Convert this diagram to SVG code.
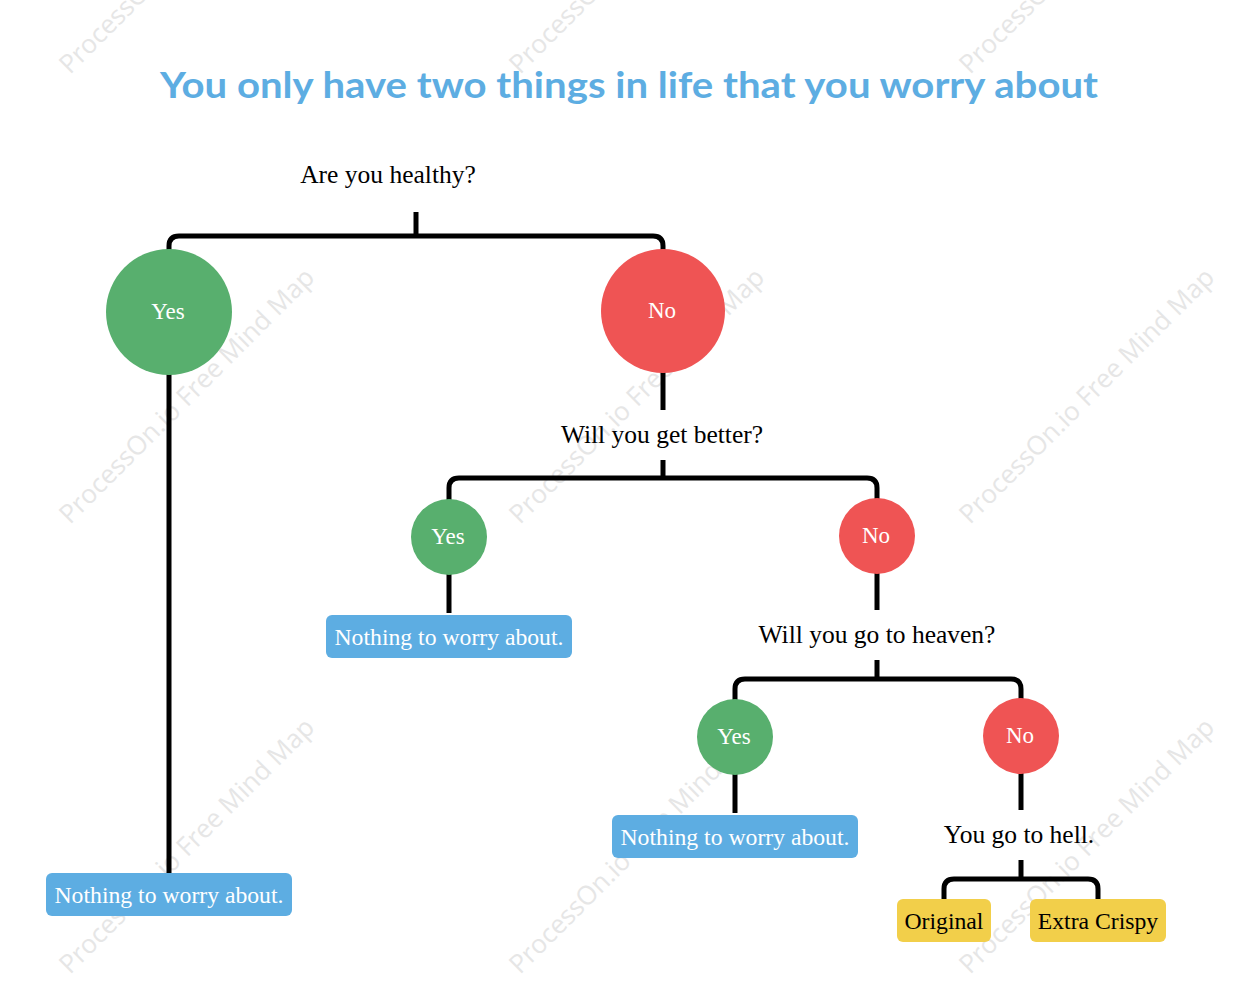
<svg xmlns="http://www.w3.org/2000/svg" width="1235" height="1004" viewBox="0 0 1235 1004">
<style>
.wm{font-family:"Open Sans","Liberation Sans",sans-serif;font-size:26px;fill:#e6e6e6}
.title{font-family:"Comic Sans MS","Lato","DejaVu Sans",sans-serif;font-size:36px;font-weight:bold;fill:#5dade2}
.q{font-family:"Liberation Serif",serif;font-size:25.5px;fill:#000;text-anchor:middle}
.lbl{font-family:"Liberation Serif",serif;font-size:23px;fill:#fff;text-anchor:middle}
.leaf{font-family:"Liberation Serif",serif;font-size:23.7px;fill:#fff;text-anchor:middle}
.yl{font-family:"Liberation Serif",serif;font-size:23.7px;fill:#000;text-anchor:middle}
.yes{fill:#58af6e}
.no{fill:#ef5454}
.blue{fill:#5dade2}
.yellow{fill:#f2cf4a}
.ln{fill:none;stroke:#000;stroke-width:5;stroke-linejoin:round}
</style>
<rect width="1235" height="1004" fill="#fff"/>
<g id="watermarks">
<text class="wm" transform="translate(70,75) rotate(-45)">ProcessOn.io Free Mind Map</text>
<text class="wm" transform="translate(520,75) rotate(-45)">ProcessOn.io Free Mind Map</text>
<text class="wm" transform="translate(970,75) rotate(-45)">ProcessOn.io Free Mind Map</text>
<text class="wm" transform="translate(70,525) rotate(-45)">ProcessOn.io Free Mind Map</text>
<text class="wm" transform="translate(520,525) rotate(-45)">ProcessOn.io Free Mind Map</text>
<text class="wm" transform="translate(970,525) rotate(-45)">ProcessOn.io Free Mind Map</text>
<text class="wm" transform="translate(70,975) rotate(-45)">ProcessOn.io Free Mind Map</text>
<text class="wm" transform="translate(520,975) rotate(-45)">ProcessOn.io Free Mind Map</text>
<text class="wm" transform="translate(970,975) rotate(-45)">ProcessOn.io Free Mind Map</text>
</g>
<g id="title">
<text class="title" x="160" y="98" textLength="938" lengthAdjust="spacingAndGlyphs">You only have two things in life that you worry about</text>
</g>
<g id="connectors">
<path class="ln" d="M416 212 V236"/>
<path class="ln" d="M169 252 V246 Q169 236 179 236 H653 Q663 236 663 246 V252"/>
<path class="ln" d="M169 372 V874"/>
<path class="ln" d="M663 372 V410"/>
<path class="ln" d="M663 460 V478"/>
<path class="ln" d="M449 502 V488 Q449 478 459 478 H867 Q877 478 877 488 V502"/>
<path class="ln" d="M449 572 V613"/>
<path class="ln" d="M877 572 V610"/>
<path class="ln" d="M877 660 V679"/>
<path class="ln" d="M735 702 V689 Q735 679 745 679 H1011 Q1021 679 1021 689 V702"/>
<path class="ln" d="M735 772 V813"/>
<path class="ln" d="M1021 772 V810"/>
<path class="ln" d="M1021 860 V879"/>
<path class="ln" d="M944 900 V889 Q944 879 954 879 H1088 Q1098 879 1098 889 V900"/>
</g>
<g id="q1"><text class="q" x="388" y="183">Are you healthy?</text></g>
<g id="yes1"><circle class="yes" cx="169" cy="312" r="63"/><text class="lbl" x="168" y="319">Yes</text></g>
<g id="no1"><circle class="no" cx="663" cy="311" r="62"/><text class="lbl" x="662" y="318">No</text></g>
<g id="leaf1"><rect class="blue" x="46" y="873" width="246" height="43" rx="6"/><text class="leaf" x="169" y="903">Nothing to worry about.</text></g>
<g id="q2"><text class="q" x="662" y="443">Will you get better?</text></g>
<g id="yes2"><circle class="yes" cx="449" cy="537" r="38"/><text class="lbl" x="448" y="544">Yes</text></g>
<g id="no2"><circle class="no" cx="877" cy="536" r="38"/><text class="lbl" x="876" y="543">No</text></g>
<g id="leaf2"><rect class="blue" x="326" y="615" width="246" height="43" rx="6"/><text class="leaf" x="449" y="645">Nothing to worry about.</text></g>
<g id="q3"><text class="q" x="877" y="643">Will you go to heaven?</text></g>
<g id="yes3"><circle class="yes" cx="735" cy="737" r="38"/><text class="lbl" x="734" y="744">Yes</text></g>
<g id="no3"><circle class="no" cx="1021" cy="736" r="38"/><text class="lbl" x="1020" y="743">No</text></g>
<g id="leaf3"><rect class="blue" x="612" y="815" width="246" height="43" rx="6"/><text class="leaf" x="735" y="845">Nothing to worry about.</text></g>
<g id="q4"><text class="q" x="1019" y="843">You go to hell.</text></g>
<g id="original"><rect class="yellow" x="897" y="899" width="94" height="43" rx="6"/><text class="yl" x="944" y="929">Original</text></g>
<g id="crispy"><rect class="yellow" x="1030" y="899" width="136" height="43" rx="6"/><text class="yl" x="1098" y="929">Extra Crispy</text></g>
</svg>
